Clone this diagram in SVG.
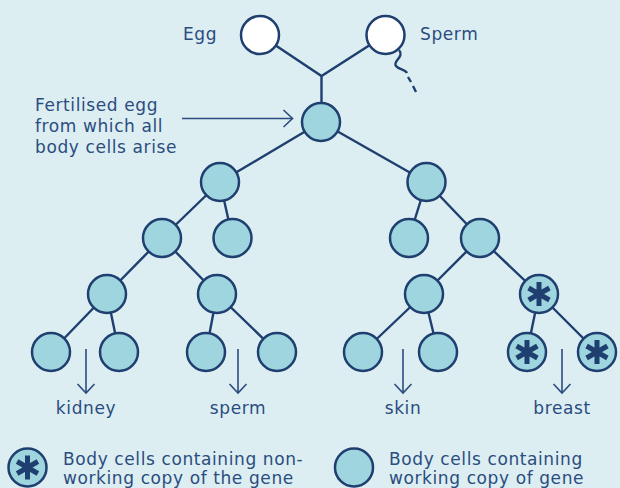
<svg xmlns="http://www.w3.org/2000/svg" width="620" height="488" viewBox="0 0 620 488">
<defs>
<style>
.bg{fill:#dceef2}
.cell{fill:#9fd5de;stroke:#1e3f6f;stroke-width:2.5}
.gam{fill:#ffffff;stroke:#1e3f6f;stroke-width:2.5}
.edge{stroke:#1e3f6f;stroke-width:2.4;fill:none}
.arr{stroke:#2b4c7e;stroke-width:1.6;fill:none}
.star{stroke:#1e3f6f;stroke-width:5;fill:none}
text{font-family:"DejaVu Sans","Liberation Sans",sans-serif;font-size:17px;letter-spacing:0.6px;fill:#2b4c7e}
</style>
<marker id="chev" markerUnits="userSpaceOnUse" markerWidth="20" markerHeight="20" viewBox="-12 -10 14 20" refX="0" refY="0" orient="auto">
<path d="M-9,-8.5 L0,0 L-9,8.5" fill="none" stroke="#2b4c7e" stroke-width="1.6"/>
</marker>
<g id="ast"><path class="star" d="M0,-12 V12 M-10.4,-6 L10.4,6 M-10.4,6 L10.4,-6"/></g>
</defs>
<rect class="bg" x="0" y="0" width="620" height="488"/>

<g id="connectors">
<path class="edge" d="M260,35 L321.5,76 L385.5,35 M321.5,76 V122"/>
<path class="edge" d="M399,50 C405,57 392,61 396,66 C399,70 405,69 407,73"/>
<path class="edge" d="M408,77 L411,82 M413,86 L416,92"/>
<path class="edge" d="M321,122 L220,182 M321,122 L426.5,182"/>
<path class="edge" d="M220,182 L162,238 M220,182 L232.5,238 M426.5,182 L409,238 M426.5,182 L480,238"/>
<path class="edge" d="M162,238 L107,294 M162,238 L217,294 M480,238 L424,294 M480,238 L539,294"/>
<path class="edge" d="M107,294 L51,352 M107,294 L119,352 M217,294 L206,352 M217,294 L277,352 M424,294 L363,352 M424,294 L438,352 M539,294 L527,352 M539,294 L597,352"/>
<line class="arr" x1="182" y1="118.5" x2="292.5" y2="118.5" marker-end="url(#chev)"/>
<line class="arr" x1="86" y1="349" x2="86" y2="393" marker-end="url(#chev)"/>
<line class="arr" x1="238" y1="349" x2="238" y2="393" marker-end="url(#chev)"/>
<line class="arr" x1="403" y1="349" x2="403" y2="393" marker-end="url(#chev)"/>
<line class="arr" x1="562" y1="349" x2="562" y2="393" marker-end="url(#chev)"/>
</g>

<g id="egg"><circle class="gam" cx="260" cy="35" r="19"/><text x="183" y="40">Egg</text></g>
<g id="sperm"><circle class="gam" cx="385.5" cy="35" r="19"/><text x="420" y="40">Sperm</text></g>
<g id="fertilised"><circle class="cell" cx="321" cy="122" r="19"/>
<text x="35" y="111">Fertilised egg</text><text x="35" y="132">from which all</text><text x="35" y="153">body cells arise</text></g>

<g id="c2a"><circle class="cell" cx="220" cy="182" r="19"/></g>
<g id="c2b"><circle class="cell" cx="426.5" cy="182" r="19"/></g>
<g id="c3a"><circle class="cell" cx="162" cy="238" r="19"/></g>
<g id="c3b"><circle class="cell" cx="232.5" cy="238" r="19"/></g>
<g id="c3c"><circle class="cell" cx="409" cy="238" r="19"/></g>
<g id="c3d"><circle class="cell" cx="480" cy="238" r="19"/></g>
<g id="c4a"><circle class="cell" cx="107" cy="294" r="19"/></g>
<g id="c4b"><circle class="cell" cx="217" cy="294" r="19"/></g>
<g id="c4c"><circle class="cell" cx="424" cy="294" r="19"/></g>
<g id="c4d"><circle class="cell" cx="539" cy="294" r="19"/><use href="#ast" x="539" y="294"/></g>
<g id="c5a"><circle class="cell" cx="51" cy="352" r="19"/></g>
<g id="c5b"><circle class="cell" cx="119" cy="352" r="19"/></g>
<g id="c5c"><circle class="cell" cx="206" cy="352" r="19"/></g>
<g id="c5d"><circle class="cell" cx="277" cy="352" r="19"/></g>
<g id="c5e"><circle class="cell" cx="363" cy="352" r="19"/></g>
<g id="c5f"><circle class="cell" cx="438" cy="352" r="19"/></g>
<g id="c5g"><circle class="cell" cx="527" cy="352" r="19"/><use href="#ast" x="527" y="352"/></g>
<g id="c5h"><circle class="cell" cx="597" cy="352" r="19"/><use href="#ast" x="597" y="352"/></g>

<g id="labels">
<text x="86" y="414" text-anchor="middle">kidney</text>
<text x="238" y="414" text-anchor="middle">sperm</text>
<text x="403" y="414" text-anchor="middle">skin</text>
<text x="562" y="414" text-anchor="middle">breast</text>
</g>

<g id="legend-nonworking"><circle class="cell" cx="27.5" cy="467.5" r="19"/><use href="#ast" x="27.5" y="467.5"/>
<text x="63" y="465">Body cells containing non-</text><text x="63" y="484">working copy of the gene</text></g>
<g id="legend-working"><circle class="cell" cx="354" cy="467.5" r="19"/>
<text x="389" y="465">Body cells containing</text><text x="389" y="484">working copy of gene</text></g>
</svg>
